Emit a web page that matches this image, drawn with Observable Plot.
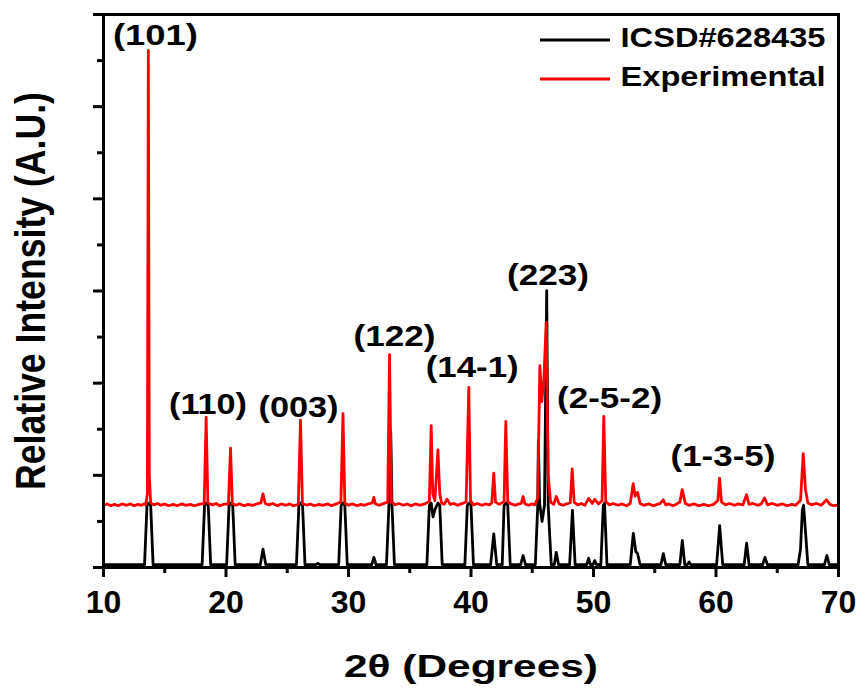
<!DOCTYPE html>
<html>
<head>
<meta charset="utf-8">
<script src="https://cdn.jsdelivr.net/npm/d3@7"></script>
<script src="https://cdn.jsdelivr.net/npm/@observablehq/plot@0.6"></script>
<style>
  body { margin: 0; background: #ffffff; }
  #chart svg { display: block; }
</style>
</head>
<body>
<div id="chart"></div>
<script>
// ---------- DATA ----------
// ICSD#628435 reference pattern: [2θ, relative intensity]
const reference = [
  [10,0.6],[13.35,0.6],[13.55,13.5],[13.7,14],[13.85,13.5],[14.05,0.6],
  [18.05,0.6],[18.25,13.5],[18.4,14],[18.55,13.5],[18.75,0.6],
  [20.05,0.6],[20.25,13.5],[20.4,14],[20.55,13.5],[20.75,0.6],
  [22.8,0.6],[23.02,4.0],[23.25,0.6],
  [25.75,0.6],[25.95,13.5],[26.1,14],[26.25,13.5],[26.45,0.6],
  [27.35,0.6],[27.5,0.9],[27.65,0.6],
  [29.2,0.6],[29.4,13.5],[29.55,14],[29.7,13.5],[29.9,0.6],
  [31.9,0.6],[32.07,2.2],[32.25,0.6],
  [33.1,0.6],[33.3,13.5],[33.45,29.4],[33.55,13.5],[33.75,0.6],
  [36.4,0.6],[36.6,13.5],[36.75,14],[36.9,11],[37.05,12.5],[37.3,14],[37.45,13.5],[37.65,0.6],
  [39.5,0.6],[39.7,13.5],[39.85,14],[40.0,13.5],[40.2,0.6],
  [41.6,0.6],[41.86,7.3],[42.1,0.6],
  [42.55,0.6],[42.7,13.5],[42.86,14],[43.0,13.5],[43.2,0.6],
  [44.05,0.6],[44.25,2.6],[44.45,0.6],
  [45.25,0.6],[45.45,13.5],[45.5,27.6],[45.6,14],[45.8,10],[46.0,13.5],[46.18,60.1],[46.3,13.5],[46.55,0.6],
  [46.8,0.6],[46.96,3.3],[47.15,0.6],
  [48.05,0.6],[48.28,12.4],[48.5,0.6],
  [49.45,0.6],[49.6,2.0],[49.75,0.6],[49.95,0.6],[50.1,1.5],[50.25,0.6],
  [50.6,0.6],[50.8,13.5],[50.9,14],[51.1,0.6],
  [53.0,0.6],[53.25,7.4],[53.45,3.5],[53.6,3.0],[53.8,0.6],
  [55.5,0.6],[55.7,3.0],[55.9,0.6],
  [57.05,0.6],[57.25,5.9],[57.45,0.6],[57.65,0.6],[57.8,1.2],[57.95,0.6],
  [60.05,0.6],[60.3,9.1],[60.55,0.6],
  [62.3,0.6],[62.5,5.3],[62.7,0.6],
  [63.8,0.6],[64.0,2.2],[64.2,0.6],
  [66.7,0.6],[66.9,4],[67.05,12.5],[67.15,13.5],[67.3,8],[67.5,0.6],
  [68.85,0.6],[69.05,2.6],[69.25,0.6],[70,0.6]
];

// Experimental pattern: [2θ, relative intensity]
const experimental = [
  [10.0,13.5],[10.3,13.8],[10.6,13.4],[10.9,13.7],[11.2,13.4],[11.5,13.8],[11.9,13.5],[12.2,13.8],
  [12.5,13.4],[12.8,13.7],[13.1,13.5],[13.3,13.8],
  [13.45,13.6],[13.58,16],[13.66,112.2],[13.74,20],[13.85,14.0],
  [14.1,13.6],[14.4,13.9],[14.7,13.5],[15.0,13.8],[15.3,13.4],[15.7,13.7],[16.0,13.4],[16.4,13.8],
  [16.7,13.5],[17.1,13.7],[17.4,13.4],[17.8,13.7],
  [18.22,13.9],[18.38,32.6],[18.52,14.0],[18.9,13.6],[19.2,13.9],[19.5,13.4],[19.8,13.7],
  [20.2,13.8],[20.37,25.9],[20.52,13.9],[20.8,13.5],[21.1,13.8],[21.5,13.4],[21.8,13.7],[22.2,13.5],[22.5,13.8],
  [22.85,14.0],[23.02,16.0],[23.2,13.9],[23.5,13.6],[23.8,13.9],[24.2,13.4],[24.5,13.8],[24.9,13.5],[25.2,13.8],[25.5,13.4],
  [25.9,13.7],[26.08,32.0],[26.24,13.9],[26.6,13.5],[26.9,13.8],[27.2,13.4],[27.6,13.7],[27.9,13.5],[28.3,13.8],[28.6,13.4],
  [29.0,13.8],[29.38,14.2],[29.55,33.4],[29.7,14.0],[30.0,13.5],[30.3,13.8],[30.7,13.4],[31.0,13.7],[31.3,13.5],
  [31.6,13.8],[31.95,14.0],[32.07,15.2],[32.2,13.8],[32.5,13.5],[32.8,13.8],
  [33.2,14.2],[33.35,46.2],[33.5,14.3],[33.8,13.6],[34.1,13.9],[34.5,13.5],[34.8,13.8],[35.1,13.4],[35.5,13.8],
  [35.8,13.5],[36.2,13.8],[36.6,14.3],[36.75,30.8],[36.88,16],[37.05,14.5],[37.3,25.5],
  [37.45,16],[37.6,14.0],[37.8,13.7],[38.05,14.8],[38.3,13.7],[38.6,13.9],[38.9,13.5],[39.2,13.8],
  [39.6,14.2],[39.82,39.1],[39.96,14.5],[40.2,13.6],[40.5,13.9],[40.9,13.5],[41.2,13.8],[41.5,13.6],
  [41.7,14.0],[41.86,20.5],[42.0,14.2],[42.3,13.7],[42.7,14.3],[42.84,31.7],[43.0,14.2],
  [43.3,13.8],[43.6,13.5],[43.9,13.8],[44.1,13.9],[44.25,15.4],[44.4,13.8],[44.7,13.5],[45.0,13.8],[45.2,13.6],
  [45.45,15],[45.62,43.8],[45.78,36],[45.95,41],[46.14,53.2],[46.3,20],[46.5,14.2],[46.75,13.7],
  [46.96,15.4],[47.2,13.8],[47.5,13.5],[47.8,13.8],[48.1,14.0],[48.26,21.4],[48.42,14.2],
  [48.7,13.6],[49.0,13.9],[49.3,13.5],[49.6,15.0],[49.9,13.9],[50.1,14.8],[50.4,13.8],
  [50.7,14.5],[50.84,32.8],[51.0,14.3],[51.3,13.6],[51.6,13.9],[52.0,13.5],[52.3,13.8],[52.7,13.4],
  [53.0,13.9],[53.24,18.2],[53.4,15.5],[53.6,16.3],[53.8,13.9],
  [54.1,13.5],[54.5,13.8],[54.9,13.4],[55.2,13.7],[55.45,13.9],[55.69,14.7],[55.9,13.6],[56.1,13.8],[56.5,13.4],[56.8,13.8],
  [57.05,14.2],[57.24,16.9],[57.5,13.9],[57.8,13.5],[58.2,13.8],[58.6,13.4],[59.0,13.7],[59.4,13.4],[59.8,13.7],
  [60.15,14.5],[60.29,19.4],[60.45,14.2],[60.8,13.6],[61.1,13.9],[61.5,13.5],[61.8,13.8],[62.2,13.6],
  [62.49,15.8],[62.7,13.7],[63.0,13.9],[63.4,13.5],[63.7,13.8],[63.96,15.1],[64.2,13.6],
  [64.6,13.9],[65.0,13.5],[65.4,13.8],[65.8,13.4],[66.2,13.7],[66.5,13.5],[66.9,14.6],[67.12,24.7],[67.3,17],
  [67.5,14.0],[67.8,13.6],[68.2,13.9],[68.6,13.5],[69.02,14.7],[69.3,13.7],[69.6,13.4],[70,13.6]
];

// Peak (Miller index) annotations
const peakLabels = ["(101)", "(110)", "(003)", "(122)", "(14-1)", "(223)", "(2-5-2)", "(1-3-5)"];
const peakLabelTheta = [14.24, 18.53, 25.92, 33.76, 40.10, 46.29, 51.31, 60.57];
const peakLabelIntensity = [115.5, 35.4, 34.7, 50.1, 43.4, 63.4, 36.7, 24.1];

// Axes
const xMajorTicks = [10, 20, 30, 40, 50, 60, 70];
const xMinorTicks = [15, 25, 35, 45, 55, 65];
const yMajorTicks = [0, 20, 40, 60, 80, 100, 120];
const yMinorTicks = [10, 30, 50, 70, 90, 110];
const xTitle = "2θ (Degrees)";
const yTitle = "Relative Intensity (A.U.)";
const seriesNames = ["ICSD#628435", "Experimental"];
const seriesColors = ["#000000", "#ff0000"];

// ---------- LAYOUT ----------
const W = 862, H = 691;
const mL = 103, mR = 24, mT = 14, mB = 124;
const textWidths = new Map([
  ["(101)", 85], ["(110)", 78], ["(003)", 80], ["(122)", 82], ["(14-1)", 93],
  ["(223)", 82], ["(2-5-2)", 105], ["(1-3-5)", 105],
  ["ICSD#628435", 205], ["Experimental", 205],
  [xTitle, 254], [yTitle, 398]
]);

const labels = peakLabels.map((t, i) => ({text: t, x: peakLabelTheta[i], y: peakLabelIntensity[i]}));

const chart = Plot.plot({
  width: W, height: H,
  marginLeft: mL, marginRight: mR, marginTop: mT, marginBottom: mB,
  style: {fontFamily: "'Liberation Sans', Arial, sans-serif", fontWeight: "bold", background: "#ffffff", color: "#000000"},
  x: {domain: [10, 70]},
  y: {domain: [0, 120]},
  marks: [
    Plot.line(reference, {x: d => d[0], y: d => d[1], stroke: seriesColors[0], strokeWidth: 2.8}),
    Plot.line(experimental, {x: d => d[0], y: d => d[1], stroke: seriesColors[1], strokeWidth: 2.8}),
    Plot.frame({stroke: "#000", strokeWidth: 3}),
    Plot.axisX({ticks: xMajorTicks, tickSize: 10, tickPadding: 13, strokeWidth: 3, fontSize: 32, label: null}),
    Plot.axisX({ticks: xMinorTicks, tickSize: 6, tickFormat: () => "", strokeWidth: 3, label: null}),
    Plot.axisY({ticks: yMajorTicks, tickSize: 10, tickFormat: () => "", strokeWidth: 3, label: null}),
    Plot.axisY({ticks: yMinorTicks, tickSize: 6, tickFormat: () => "", strokeWidth: 3, label: null}),
    Plot.text(labels, {x: "x", y: "y", text: "text", fontSize: 30, fontWeight: "bold", fill: "#000"}),
    Plot.text([xTitle], {frameAnchor: "bottom", lineAnchor: "middle", dy: 99, fontSize: 32, fontWeight: "bold", fill: "#000"}),
    Plot.text([yTitle], {frameAnchor: "left", textAnchor: "middle", lineAnchor: "middle", dx: -72, rotate: -90, fontSize: 42, fontWeight: "bold", fill: "#000"}),
    Plot.text([seriesNames[0]], {frameAnchor: "top-right", textAnchor: "start", lineAnchor: "middle", dx: -218, dy: 24, fontSize: 28, fontWeight: "bold", fill: "#000"}),
    Plot.text([seriesNames[1]], {frameAnchor: "top-right", textAnchor: "start", lineAnchor: "middle", dx: -218, dy: 63, fontSize: 28, fontWeight: "bold", fill: "#000"})
  ]
});

document.getElementById("chart").appendChild(chart);

// Stretch texts to the widths seen in the reference
d3.select(chart).selectAll("text").each(function () {
  const w = textWidths.get(this.textContent);
  if (w) {
    this.setAttribute("textLength", w);
    this.setAttribute("lengthAdjust", "spacingAndGlyphs");
  }
});

// Legend swatches
const right = W - mR;
const sw = d3.select(chart).append("g");
[0, 1].forEach(i => {
  sw.append("line")
    .attr("x1", right - 298).attr("x2", right - 228)
    .attr("y1", mT + 26 + i * 39).attr("y2", mT + 26 + i * 39)
    .attr("stroke", seriesColors[i]).attr("stroke-width", 2.8);
});
</script>
</body>
</html>
